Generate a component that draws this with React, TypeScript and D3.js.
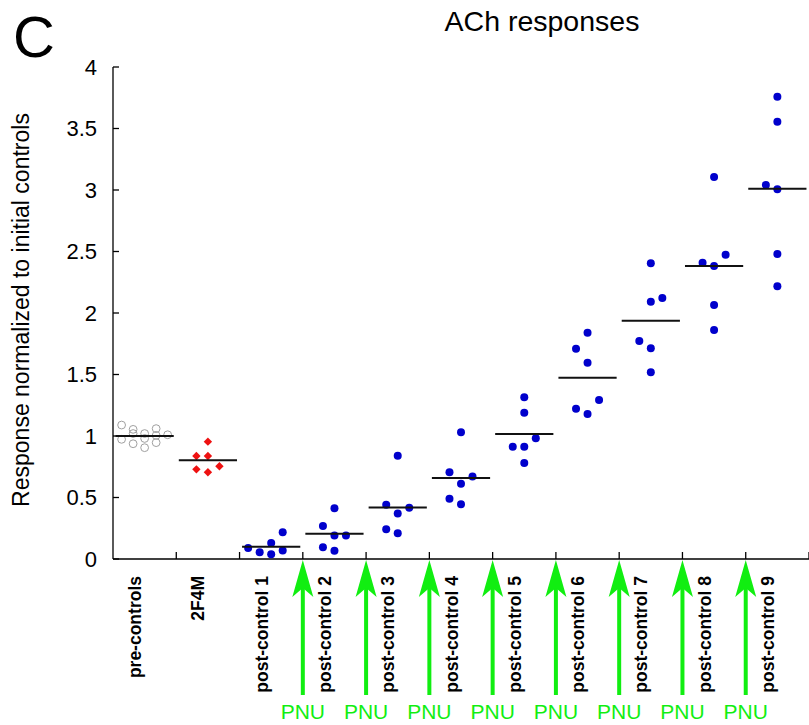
import React from "react";
import * as d3 from "d3";

const categories = [
  "pre-controls", "2F4M", "post-control 1", "post-control 2", "post-control 3",
  "post-control 4", "post-control 5", "post-control 6", "post-control 7",
  "post-control 8", "post-control 9",
];

// values per category (normalized responses)
const preControls = [1.089, 1.054, 1.02, 1.02, 1.06, 1.005, 1.01, 0.973, 0.937, 0.98, 0.905, 0.946];
const preControlsCol = [-2, -1, -1, 0, 1, 1, 2, -2, -1, 0, 0, 1];
const f2f4m = [0.954, 0.837, 0.837, 0.729, 0.705, 0.754];
const f2f4mCol = [0, -1, 0, -1, 0, 1];
const post1 = [0.089, 0.054, 0.13, 0.038, 0.217, 0.07];
const post1Col = [-2, -1, 0, 0, 1, 1];
const post2 = [0.268, 0.095, 0.412, 0.192, 0.068, 0.192];
const post2Col = [-1, -1, 0, 0, 0, 1];
const post3 = [0.442, 0.241, 0.84, 0.369, 0.209, 0.417];
const post3Col = [-1, -1, 0, 0, 0, 1];
const post4 = [0.705, 0.49, 1.03, 0.612, 0.445, 0.67];
const post4Col = [-1, -1, 0, 0, 0, 1];
const post5 = [1.315, 1.19, 0.981, 0.913, 0.913, 0.78];
const post5Col = [0, 0, 1, -1, 0, 0];
const post6 = [1.84, 1.71, 1.596, 1.222, 1.179, 1.293];
const post6Col = [0, -1, 0, -1, 0, 1];
const post7 = [2.404, 2.092, 2.122, 1.772, 1.713, 1.518];
const post7Col = [0, 0, 1, -1, 0, 0];
const post8 = [3.106, 2.409, 2.382, 2.474, 2.065, 1.862];
const post8Col = [0, -1, 0, 1, 0, 0];
const post9 = [3.759, 3.555, 3.04, 3.006, 2.48, 2.217];
const post9Col = [0, 0, -1, 0, 0, 0];

const groupValues = [preControls, f2f4m, post1, post2, post3, post4, post5, post6, post7, post8, post9];
const groupCols = [preControlsCol, f2f4mCol, post1Col, post2Col, post3Col, post4Col, post5Col, post6Col, post7Col, post8Col, post9Col];

const yTicks = [0, 0.5, 1, 1.5, 2, 2.5, 3, 3.5, 4];
const yTickLabels = ["0", "0.5", "1", "1.5", "2", "2.5", "3", "3.5", "4"];
const pnuAfter = ["post-control 1", "post-control 2", "post-control 3", "post-control 4", "post-control 5", "post-control 6", "post-control 7", "post-control 8"];

const FONT = "'Liberation Sans', Arial, Helvetica, sans-serif";
const GREEN = "#11ee11";
const BLUE = "#0000cc";

export default function App() {
  const W = 809, H = 725;
  const left = 113, right = 809, top = 67, bottom = 559;
  const x = d3.scaleBand<string>().domain(categories).range([left, right]).paddingInner(0).paddingOuter(0);
  const y = d3.scaleLinear().domain([0, 4]).range([bottom, top]);
  const bw = x.bandwidth();
  const step = bw * 0.182;
  const half = bw * 0.46;

  const boundaries = categories.slice(1).map((c) => x(c)!).concat([right]);

  return (
    <svg width={W} height={H} style={{ position: "absolute", left: 0, top: 0, background: "#fff" }} fontFamily={FONT}>
      {/* panel letter and title */}
      <text x={13} y={57} fontSize={58}>C</text>
      <text x={542} y={31} fontSize={28.5} textAnchor="middle">ACh responses</text>

      {/* y axis */}
      <line x1={left} x2={left} y1={top} y2={bottom} stroke="#000" strokeWidth={1.3} />
      {yTicks.map((t, i) => (
        <g key={"yt" + i}>
          <line x1={left} x2={left + 6} y1={y(t)} y2={y(t)} stroke="#000" strokeWidth={1.3} />
          <text x={97} y={y(t)} fontSize={22} textAnchor="end" dominantBaseline="central">{yTickLabels[i]}</text>
        </g>
      ))}
      <text transform={`translate(29,310) rotate(-90)`} fontSize={23} textAnchor="middle">
        Response normalized to initial controls
      </text>

      {/* x axis */}
      <line x1={left} x2={right} y1={bottom} y2={bottom} stroke="#000" strokeWidth={1.3} />
      {boundaries.map((b, i) => (
        <line key={"xt" + i} x1={b} x2={b} y1={bottom} y2={bottom - 7} stroke="#000" strokeWidth={1.3} />
      ))}
      {categories.map((c) => (
        <text key={"xl" + c}
          transform={`translate(${x(c)! + bw / 2 - 3.5},576) rotate(-90)`}
          fontSize={17.5} fontWeight="bold" textAnchor="end">{c}</text>
      ))}

      {/* data */}
      {groupValues.map((vals, gi) => {
        const cx = x(categories[gi])! + bw / 2;
        const m = d3.mean(vals)!;
        return (
          <g key={"g" + gi}>
            {vals.map((v, i) => {
              const px = cx + groupCols[gi][i] * step;
              const py = y(v);
              if (gi === 0) {
                return <circle key={i} cx={px} cy={py} r={3.9} fill="none" stroke="#a0a0a0" strokeWidth={1} />;
              }
              if (gi === 1) {
                const s = 4.2;
                return <path key={i} d={`M${px},${py - s}L${px + s},${py}L${px},${py + s}L${px - s},${py}Z`} fill="#ee1111" />;
              }
              return <circle key={i} cx={px} cy={py} r={4} fill={BLUE} />;
            })}
            <line x1={cx - half} x2={cx + half} y1={y(m)} y2={y(m)} stroke="#111" strokeWidth={2} />
          </g>
        );
      })}

      {/* PNU arrows */}
      {pnuAfter.map((c, i) => {
        const ax = x(c)! + bw;
        return (
          <g key={"pnu" + i}>
            <line x1={ax} x2={ax} y1={695} y2={585} stroke={GREEN} strokeWidth={4} />
            <path d={`M${ax},${bottom + 1}L${ax + 10.5},${bottom + 38}L${ax},${bottom + 29}L${ax - 10.5},${bottom + 38}Z`} fill={GREEN} />
            <text x={ax} y={719} fontSize={21} textAnchor="middle" fill={GREEN}>PNU</text>
          </g>
        );
      })}
    </svg>
  );
}
